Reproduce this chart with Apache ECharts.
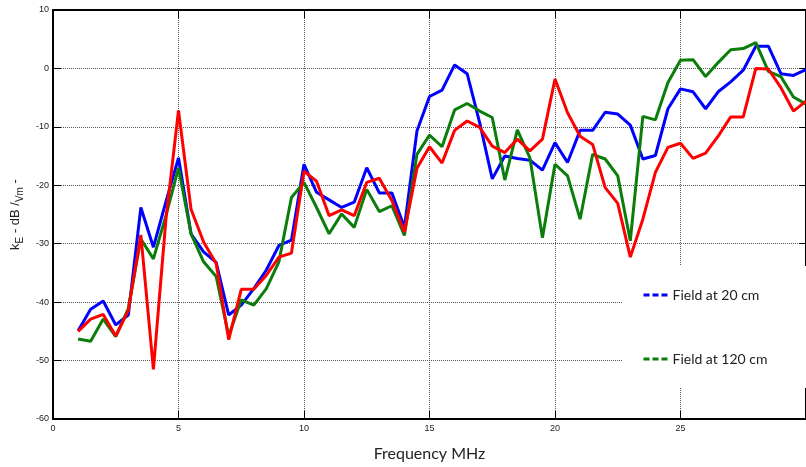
<!DOCTYPE html>
<html>
<head>
<meta charset="utf-8">
<script src="https://cdn.jsdelivr.net/npm/echarts@6/dist/echarts.min.js"></script>
<style>
html, body { margin: 0; padding: 0; background: #fff; }
#chart { width: 806px; height: 467px; }
</style>
</head>
<body>
<div id="chart"></div>
<script>
// frequency points (MHz)
var freqs = [1, 1.5, 2, 2.5, 3, 3.5, 4, 4.5, 5, 5.5, 6, 6.5, 7, 7.5, 8, 8.5, 9, 9.5, 10,
  10.5, 11, 11.5, 12, 12.5, 13, 13.5, 14, 14.5, 15, 15.5, 16, 16.5, 17, 17.5, 18, 18.5,
  19, 19.5, 20, 20.5, 21, 21.5, 22, 22.5, 23, 23.5, 24, 24.5, 25, 25.5, 26, 26.5, 27,
  27.5, 28, 28.5, 29, 29.5, 30];

// Field at 20 cm (blue)
var field20 = [-44.9, -41.2, -39.8, -43.9, -42.2, -23.8, -30.6, -22.8, -15.3, -28.3, -31.4,
  -33.2, -42.2, -40.5, -37.7, -34.5, -30.3, -29.4, -16.4, -21.2, -22.5, -23.8, -22.9, -17.0,
  -21.3, -21.3, -27.2, -10.7, -4.8, -3.7, 0.6, -0.9, -9.3, -18.9, -15.0, -15.4, -15.7, -17.4,
  -12.7, -16.1, -10.6, -10.6, -7.5, -7.8, -9.7, -15.5, -14.9, -6.9, -3.5, -4.0, -6.9, -4.0,
  -2.3, -0.3, 3.8, 3.8, -0.9, -1.2, -0.2];

// Field at 120 cm (green)
var field120 = [-46.3, -46.7, -42.9, -45.9, -41.1, -29.2, -32.6, -25.2, -17.0, -28.3, -33.1,
  -35.6, -45.8, -39.6, -40.5, -37.7, -33.1, -22.1, -19.5, -23.8, -28.3, -24.9, -27.2, -20.7,
  -24.5, -23.5, -28.6, -14.7, -11.4, -13.4, -7.1, -6.0, -7.3, -8.4, -19.1, -10.5, -15.3, -29.0,
  -16.4, -18.4, -25.8, -14.7, -15.5, -18.4, -29.5, -8.2, -8.8, -2.4, 1.4, 1.5, -1.4, 1.0,
  3.2, 3.4, 4.4, -0.5, -1.4, -4.9, -6.1];

// third trace (red, not in legend)
var fieldRed = [-45.0, -42.9, -42.1, -45.8, -41.4, -28.5, -51.5, -25.8, -7.2, -24.1, -29.7,
  -33.4, -46.4, -37.8, -37.8, -35.4, -32.3, -31.6, -17.6, -19.3, -25.2, -24.2, -25.2, -19.5,
  -18.8, -22.6, -28.0, -17.1, -13.4, -16.2, -10.6, -9.0, -10.1, -13.3, -14.4, -12.1, -14.1,
  -12.1, -1.8, -7.6, -11.6, -13.0, -20.4, -23.1, -32.3, -25.8, -17.8, -13.5, -12.8, -15.4,
  -14.5, -11.6, -8.3, -8.3, 0.0, -0.1, -3.3, -7.3, -5.6];

var legendNames = ['Field at 20 cm', 'Field at 120 cm'];

function pairs(vals) {
    return freqs.map(function (f, i) { return [f, vals[i]]; });
}

var chart = echarts.init(document.getElementById('chart'));

var tickFont = { fontFamily: 'Liberation Sans', fontSize: 9, color: '#222' };
var gridLine = { show: true, lineStyle: { color: '#555', type: 'dotted', width: 1 } };

chart.setOption({
    animation: false,
    backgroundColor: '#fff',
    grid: { left: 53, right: -3, top: 10, bottom: 46 },
    legend: {
        data: legendNames,
        orient: 'vertical',
        left: 623,
        top: 266,
        padding: [22, 60, 22, 19],
        itemGap: 50,
        itemWidth: 24,
        itemHeight: 14,
        backgroundColor: '#fff',
        itemStyle: { opacity: 0 },
        lineStyle: { type: [6, 3], width: 3, cap: 'butt' },
        textStyle: { fontFamily: 'Lato', fontSize: 14, color: '#222' }
    },
    xAxis: [{
        type: 'value',
        min: 0, max: 30, interval: 5,
        name: 'Frequency MHz',
        nameLocation: 'middle',
        nameGap: 27,
        nameTextStyle: { fontFamily: 'Lato', fontSize: 16, color: '#222' },
        axisLine: { onZero: false, lineStyle: { color: '#000', width: 2 } },
        axisTick: { inside: true, length: 8, lineStyle: { color: '#000', width: 1 } },
        axisLabel: Object.assign({ margin: 5, showMaxLabel: false }, tickFont),
        splitLine: gridLine
    }, {
        type: 'value',
        position: 'top',
        min: 0, max: 30, interval: 5,
        axisLine: { onZero: false, lineStyle: { color: '#000', width: 2 } },
        axisTick: { inside: true, length: 8, lineStyle: { color: '#000', width: 1 } },
        axisLabel: { show: false },
        splitLine: { show: false }
    }],
    yAxis: [{
        type: 'value',
        min: -60, max: 10, interval: 10,
        name: '{a|k}{s|E}{a| - dB /}{s|Vm}{a| -}',
        nameLocation: 'middle',
        nameGap: 25,
        nameRotate: 90,
        nameTextStyle: {
            fontFamily: 'Liberation Sans', color: '#222',
            rich: {
                a: { fontFamily: 'Liberation Sans', fontSize: 13, lineHeight: 20, verticalAlign: 'middle', color: '#222' },
                s: { fontFamily: 'Liberation Sans', fontSize: 10, lineHeight: 10, verticalAlign: 'bottom', color: '#222' }
            }
        },
        axisLine: { onZero: false, lineStyle: { color: '#000', width: 2 } },
        axisTick: { show: true, inside: true, length: 8, lineStyle: { color: '#000', width: 1 } },
        axisLabel: Object.assign({ margin: 4 }, tickFont),
        splitLine: gridLine
    }, {
        type: 'value',
        position: 'right',
        min: -60, max: 10, interval: 10,
        axisLine: { show: true, onZero: false, lineStyle: { color: '#000', width: 2 } },
        axisTick: { show: true, inside: true, length: 7, lineStyle: { color: '#000', width: 1 } },
        axisLabel: { show: false },
        splitLine: { show: false }
    }],
    series: [{
        name: legendNames[0],
        type: 'line',
        data: pairs(field20),
        symbol: 'none',
        color: '#0000ff',
        lineStyle: { color: '#0000ff', width: 3 },
        z: 2
    }, {
        name: legendNames[1],
        type: 'line',
        data: pairs(field120),
        symbol: 'none',
        color: '#0a7d0a',
        lineStyle: { color: '#0a7d0a', width: 3 },
        z: 3
    }, {
        name: 'red',
        type: 'line',
        data: pairs(fieldRed),
        symbol: 'none',
        color: '#ff0000',
        lineStyle: { color: '#ff0000', width: 3 },
        z: 4
    }]
});
</script>
</body>
</html>
